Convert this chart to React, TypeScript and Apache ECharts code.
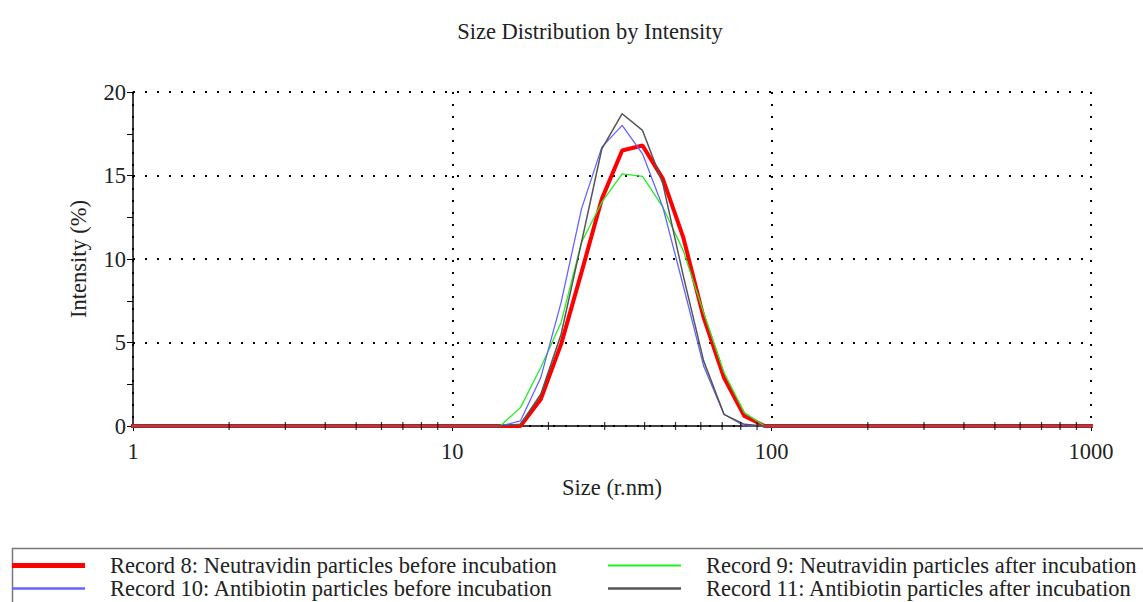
import React, { useEffect, useRef } from "react";
import * as echarts from "echarts";

// Size bins (radius, nm)
const SIZES = [
  0.868, 1.005, 1.164, 1.348, 1.561, 1.808, 2.094, 2.425, 2.808, 3.252,
  3.766, 4.361, 5.05, 5.85, 6.77, 7.845, 9.085, 10.52, 12.18, 14.11,
  16.34, 18.92, 21.91, 25.38, 29.39, 34.03, 39.41, 45.64, 52.86, 61.22,
  70.9, 82.11, 95.09, 110.1, 127.5, 147.7, 171.0, 198.1, 229.4, 265.6,
  307.6, 356.2, 412.5, 477.7, 553, 640.5, 742, 859, 995, 1152,
];

const Z20 = [0, 0, 0, 0, 0, 0, 0, 0, 0, 0, 0, 0, 0, 0, 0, 0, 0, 0, 0, 0];
const Z8 = [0, 0, 0, 0, 0, 0, 0, 0];

// Intensity (%) per bin
const REC8 = [...Z20, 0, 1.6, 4.9, 9.2, 13.6, 16.5, 16.8, 14.8, 11.3, 6.5, 2.9, 0.6, 0, 0, 0, 0, 0, 0, 0, 0, 0, 0, ...Z8];
const REC9 = [...Z20, 1.1, 3.5, 6.2, 11.0, 13.4, 15.1, 14.95, 13.1, 10.5, 6.8, 3.2, 0.8, 0, 0, 0, 0, 0, 0, 0, 0, 0, 0, ...Z8];
const REC10 = [...Z20, 0.3, 2.9, 7.4, 13.0, 16.7, 18.0, 16.3, 13.1, 8.4, 3.6, 0.7, 0, 0, 0, 0, 0, 0, 0, 0, 0, 0, 0, ...Z8];
const REC11 = [...Z20, 0.1, 1.9, 5.5, 11.0, 16.6, 18.7, 17.7, 14.5, 9.0, 3.9, 0.7, 0.1, 0, 0, 0, 0, 0, 0, 0, 0, 0, 0, ...Z8];

const NAMES = [
  "Record 8: Neutravidin particles before incubation",
  "Record 9: Neutravidin particles after incubation",
  "Record 10: Antibiotin particles before incubation",
  "Record 11: Antibiotin particles after incubation",
];
const COLORS = ["#ff0000", "#22ee22", "#6464ff", "#555555"];
const WIDTHS = [4, 1.3, 1.3, 1.5];

const X_MINOR_TICKS = [2, 3, 4, 5, 6, 7, 8, 9, 20, 30, 40, 50, 60, 70, 80, 90, 200, 300, 400, 500, 600, 700, 800, 900];

const FONT = "Liberation Serif";
const FS = 22.5;
const TXT = "#222";

export default function App() {
  const ref = useRef<HTMLDivElement>(null);
  useEffect(() => {
    if (!ref.current) return;
    const chart = echarts.init(ref.current, undefined, { renderer: "svg" });
    const seriesVals = [REC8, REC9, REC10, REC11];
    const dotted = { color: "#000", width: 2, type: [2, 10] as number[] };
    // legend placement: [left, top, iconHeight]
    const legendPos: [number, number, number][] = [
      [7, 549, 5],
      [603, 549, 2],
      [7, 572, 2.5],
      [603, 572, 2.5],
    ];
    chart.setOption({
      animation: false,
      backgroundColor: "#fff",
      title: {
        text: "Size Distribution by Intensity",
        left: 585,
        textAlign: "center",
        top: 15,
        textStyle: { fontFamily: FONT, fontSize: FS, fontWeight: "normal", color: TXT },
      },
      grid: { left: 133, right: 52, top: 92, bottom: 176 },
      xAxis: {
        type: "log",
        logBase: 10,
        min: 1,
        max: 1000,
        name: "Size (r.nm)",
        nameLocation: "middle",
        nameGap: 50,
        nameTextStyle: { fontFamily: FONT, fontSize: FS, color: TXT },
        axisLine: { lineStyle: { color: "#000", width: 1.5 } },
        axisTick: { length: 5, lineStyle: { color: "#000" } },
        axisLabel: { fontFamily: FONT, fontSize: FS, color: TXT, margin: 14, formatter: (v: number) => String(v) },
        splitLine: { show: true, lineStyle: dotted },
      },
      yAxis: {
        type: "value",
        min: 0,
        max: 20,
        interval: 5,
        name: "Intensity (%)",
        nameLocation: "middle",
        nameGap: 43,
        nameTextStyle: { fontFamily: FONT, fontSize: FS, color: TXT },
        axisLine: { show: true, lineStyle: { color: "#000", width: 1.5 } },
        axisTick: { show: true, length: 6, lineStyle: { color: "#000" } },
        minorTick: { show: true, splitNumber: 2, length: 6, lineStyle: { color: "#000" } },
        axisLabel: { fontFamily: FONT, fontSize: FS, color: TXT, margin: 7 },
        splitLine: { show: true, lineStyle: dotted },
      },
      legend: [0, 1, 2, 3].map((i) => ({
        data: [{ name: NAMES[i], icon: "rect" }],
        left: legendPos[i][0],
        top: legendPos[i][1],
        itemWidth: 73,
        itemHeight: legendPos[i][2],
        textStyle: { fontFamily: FONT, fontSize: FS, color: TXT, padding: [0, 0, 0, 20] },
      })),
      graphic: [
        {
          type: "rect",
          left: 10,
          top: 546,
          shape: { width: 1145, height: 70 },
          style: { fill: "none", stroke: "#777", lineWidth: 1.5 },
          silent: true,
        },
      ],
      series: [
        ...[0, 1, 2, 3].map((i) => ({
          name: NAMES[i],
          type: "line",
          data: SIZES.map((s, k) => [s, seriesVals[i][k]]),
          symbol: "none",
          z: i === 0 ? 2 : 3,
          lineStyle: { color: COLORS[i], width: WIDTHS[i] },
          itemStyle: { color: COLORS[i] },
        })),
        {
          name: "minorTicks",
          type: "scatter",
          data: X_MINOR_TICKS.map((t) => [t, 0]),
          symbol: "rect",
          symbolSize: [1.2, 8],
          itemStyle: { color: "#000" },
          silent: true,
          z: 5,
        },
      ],
    });
    return () => chart.dispose();
  }, []);
  return (
    <div
      ref={ref}
      style={{ position: "fixed", left: 0, top: 0, width: 1143, height: 602 }}
    />
  );
}
